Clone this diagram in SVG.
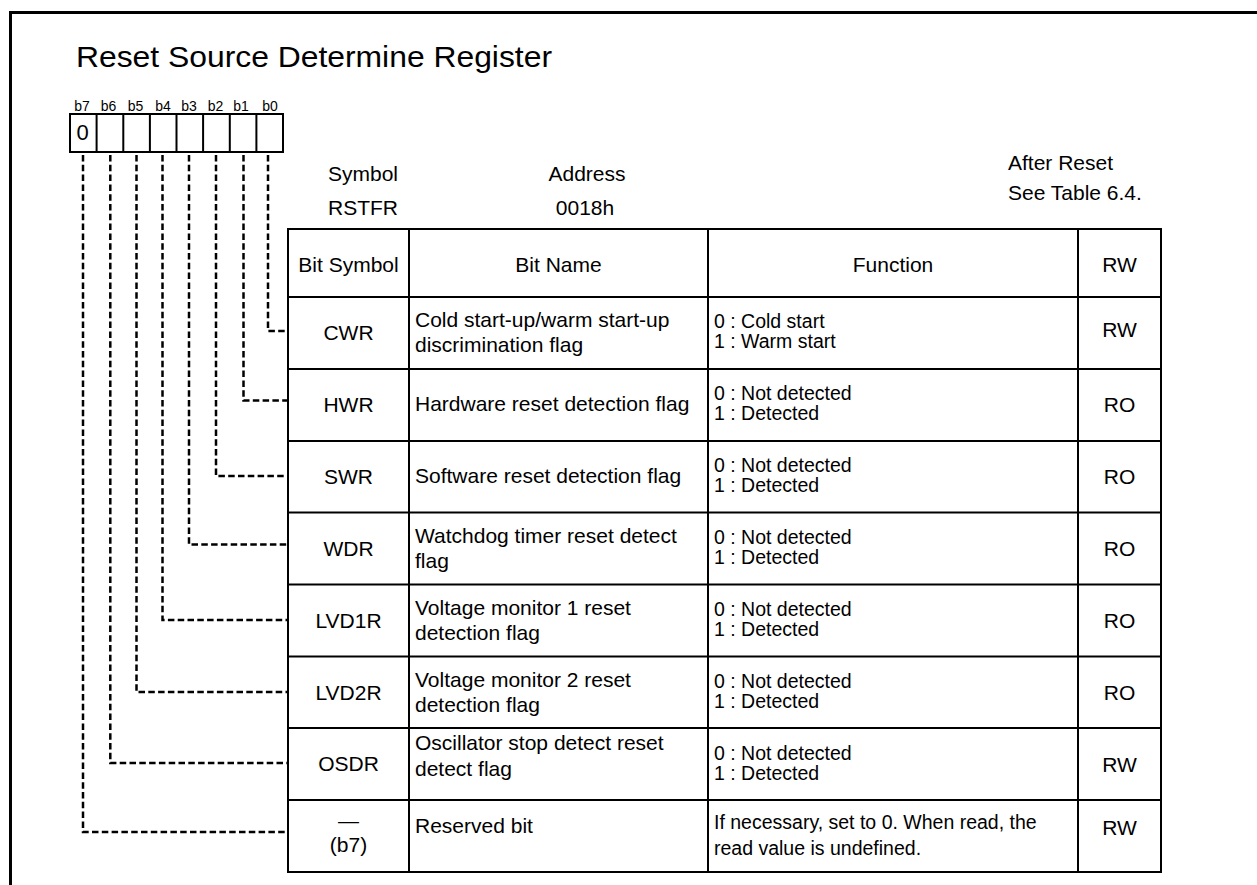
<svg xmlns="http://www.w3.org/2000/svg" width="1257" height="885" viewBox="0 0 1257 885">
  <style>
    text { font-family: "Liberation Sans", Arial, sans-serif; fill: #000; }
    .t21 { font-size: 21px; }
    .fn { font-size: 19.5px; }
    .bit { font-size: 14px; text-anchor: middle; }
    .mid { text-anchor: middle; }
    .frame { stroke: #000; stroke-width: 3; fill: none; }
    .grid { stroke: #000; stroke-width: 2; fill: none; }
    .cell { stroke: #000; stroke-width: 2; fill: #fff; }
    .dash { stroke: #000; stroke-width: 2.5; fill: none; stroke-dasharray: 6.5 3.3; }
  </style>

  <rect width="1257" height="885" fill="#fff"/>

  <!-- page frame: top and left rules -->
  <g id="frame">
    <line class="frame" x1="9" y1="12.5" x2="1257" y2="12.5"/>
    <line class="frame" x1="10.5" y1="11" x2="10.5" y2="885"/>
  </g>

  <text id="title" x="76" y="67" style="font-size:30px" textLength="476" lengthAdjust="spacingAndGlyphs">Reset Source Determine Register</text>

  <!-- 8-bit register layout -->
  <g id="register-bits">
    <text class="bit" x="82" y="111">b7</text>
    <text class="bit" x="108.5" y="111">b6</text>
    <text class="bit" x="135.5" y="111">b5</text>
    <text class="bit" x="163" y="111">b4</text>
    <text class="bit" x="189" y="111">b3</text>
    <text class="bit" x="215.5" y="111">b2</text>
    <text class="bit" x="241" y="111">b1</text>
    <text class="bit" x="270" y="111">b0</text>
    <rect class="cell" x="70" y="114" width="213" height="38"/>
    <path class="cell" d="M96.6 114V152M123.3 114V152M149.9 114V152M176.5 114V152M203.1 114V152M229.8 114V152M256.4 114V152"/>
    <text x="76.5" y="140" style="font-size:22px">0</text>
  </g>

  <!-- register info -->
  <g id="register-info">
    <text class="t21 mid" x="363" y="181">Symbol</text>
    <text class="t21 mid" x="363" y="215">RSTFR</text>
    <text class="t21 mid" x="587" y="181">Address</text>
    <text class="t21 mid" x="585" y="215">0018h</text>
    <text class="t21" x="1008" y="170">After Reset</text>
    <text class="t21" x="1008" y="200">See Table 6.4.</text>
  </g>

  <!-- bit field connectors -->
  <g id="connectors">
    <path class="dash" d="M268 155V331H288"/>
    <path class="dash" d="M243.5 155V400.5H288"/>
    <path class="dash" d="M216 155V476H288"/>
    <path class="dash" d="M189 155V544.5H288"/>
    <path class="dash" d="M162.5 155V620H288"/>
    <path class="dash" d="M136.5 155V692H288"/>
    <path class="dash" d="M110.3 155V763H288"/>
    <path class="dash" d="M83 155V832H288"/>
  </g>

  <!-- bit table -->
  <g id="table-grid">
    <rect class="grid" x="288" y="229" width="873" height="643"/>
    <path class="grid" d="M409 229V872M708 229V872M1078 229V872"/>
    <path class="grid" d="M288 297H1161M288 369H1161M288 441H1161M288 512.5H1161M288 584.5H1161M288 656.5H1161M288 728H1161M288 800H1161"/>
  </g>

  <g id="row-header">
    <text class="t21 mid" x="348.5" y="272">Bit Symbol</text>
    <text class="t21 mid" x="558.5" y="272">Bit Name</text>
    <text class="t21 mid" x="893" y="272">Function</text>
    <text class="t21 mid" x="1119.5" y="272">RW</text>
  </g>

  <g id="row-cwr">
    <text class="t21 mid" x="348.5" y="340">CWR</text>
    <text class="t21" x="415" y="327">Cold start-up/warm start-up</text>
    <text class="t21" x="415" y="352">discrimination flag</text>
    <text class="fn" x="714" y="327.5">0 : Cold start</text>
    <text class="fn" x="714" y="348">1 : Warm start</text>
    <text class="t21 mid" x="1119.5" y="337">RW</text>
  </g>

  <g id="row-hwr">
    <text class="t21 mid" x="348.5" y="412">HWR</text>
    <text class="t21" x="415" y="411">Hardware reset detection flag</text>
    <text class="fn" x="714" y="399.5">0 : Not detected</text>
    <text class="fn" x="714" y="420">1 : Detected</text>
    <text class="t21 mid" x="1119.5" y="412">RO</text>
  </g>

  <g id="row-swr">
    <text class="t21 mid" x="348.5" y="484">SWR</text>
    <text class="t21" x="415" y="483">Software reset detection flag</text>
    <text class="fn" x="714" y="471.5">0 : Not detected</text>
    <text class="fn" x="714" y="492">1 : Detected</text>
    <text class="t21 mid" x="1119.5" y="484">RO</text>
  </g>

  <g id="row-wdr">
    <text class="t21 mid" x="348.5" y="555.5">WDR</text>
    <text class="t21" x="415" y="542.5">Watchdog timer reset detect</text>
    <text class="t21" x="415" y="567.5">flag</text>
    <text class="fn" x="714" y="543.5">0 : Not detected</text>
    <text class="fn" x="714" y="564">1 : Detected</text>
    <text class="t21 mid" x="1119.5" y="555.5">RO</text>
  </g>

  <g id="row-lvd1r">
    <text class="t21 mid" x="348.5" y="627.5">LVD1R</text>
    <text class="t21" x="415" y="614.5">Voltage monitor 1 reset</text>
    <text class="t21" x="415" y="639.5">detection flag</text>
    <text class="fn" x="714" y="615.5">0 : Not detected</text>
    <text class="fn" x="714" y="636">1 : Detected</text>
    <text class="t21 mid" x="1119.5" y="627.5">RO</text>
  </g>

  <g id="row-lvd2r">
    <text class="t21 mid" x="348.5" y="699.5">LVD2R</text>
    <text class="t21" x="415" y="686.5">Voltage monitor 2 reset</text>
    <text class="t21" x="415" y="711.5">detection flag</text>
    <text class="fn" x="714" y="687.5">0 : Not detected</text>
    <text class="fn" x="714" y="708">1 : Detected</text>
    <text class="t21 mid" x="1119.5" y="699.5">RO</text>
  </g>

  <g id="row-osdr">
    <text class="t21 mid" x="348.5" y="771">OSDR</text>
    <text class="t21" x="415" y="750">Oscillator stop detect reset</text>
    <text class="t21" x="415" y="776">detect flag</text>
    <text class="fn" x="714" y="759.5">0 : Not detected</text>
    <text class="fn" x="714" y="780">1 : Detected</text>
    <text class="t21 mid" x="1119.5" y="772">RW</text>
  </g>

  <g id="row-reserved">
    <text class="t21 mid" x="348.5" y="828">—</text>
    <text class="t21 mid" x="348.5" y="852">(b7)</text>
    <text class="t21" x="415" y="833">Reserved bit</text>
    <text class="fn" x="714" y="828.5">If necessary, set to 0. When read, the</text>
    <text class="fn" x="714" y="855">read value is undefined.</text>
    <text class="t21 mid" x="1119.5" y="835">RW</text>
  </g>
</svg>
